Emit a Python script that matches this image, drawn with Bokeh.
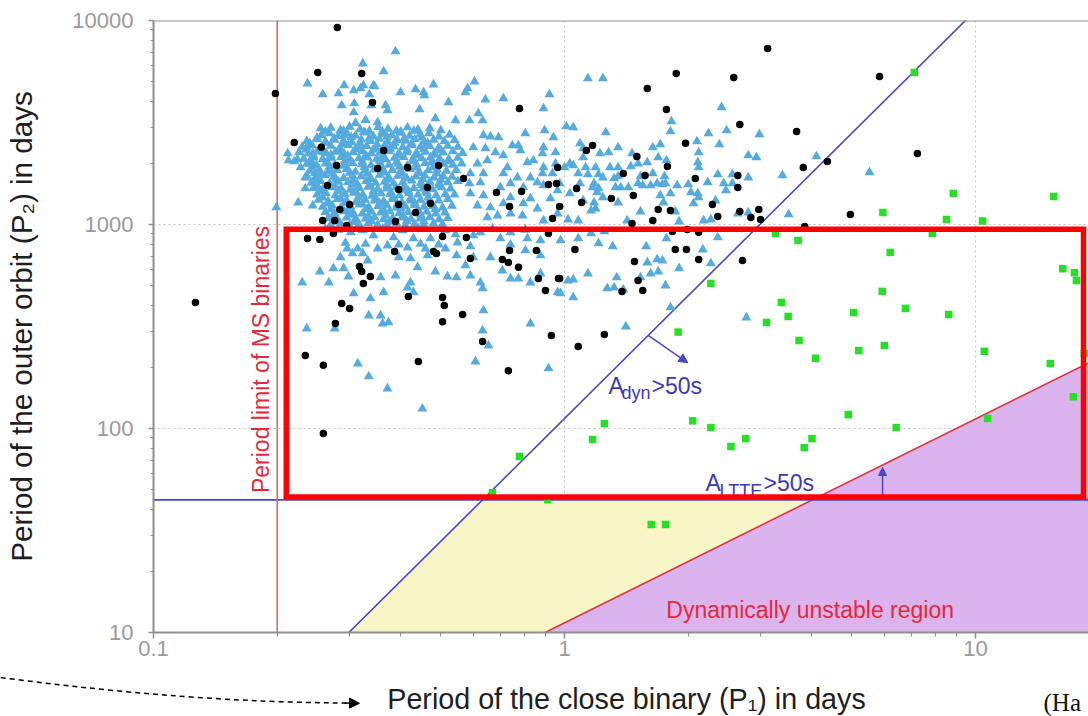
import numpy as np
from bokeh.plotting import figure
from bokeh.layouts import column
from bokeh.models import (FixedTicker, CustomJSTickFormatter, Span, Label, Arrow,
                          NormalHead, BoxAnnotation, Range1d)
from bokeh.embed import file_html
from bokeh.resources import INLINE

# ---------------------------------------------------------------------------
# Catalogue systems: (P1 close-binary period [d], P2 outer-orbit period [d])
# ---------------------------------------------------------------------------
# Kepler triples, crowded core of the distribution
triples_core = [
    (0.27, 2980), (0.285, 2900), (0.30, 3010), (0.318, 2930), (0.335, 2870), (0.352, 3000),
    (0.372, 2940), (0.39, 2880), (0.415, 2990), (0.44, 2920), (0.47, 2960), (0.50, 2890),
    (0.256, 2740), (0.268, 2800), (0.281, 2710), (0.296, 2780), (0.31, 2730), (0.327, 2820),
    (0.343, 2700), (0.361, 2770), (0.38, 2740), (0.398, 2810), (0.42, 2720), (0.445, 2760),
    (0.468, 2800), (0.495, 2700), (0.525, 2750),
    (0.236, 2560), (0.25, 2620), (0.262, 2550), (0.275, 2600), (0.29, 2580), (0.304, 2530),
    (0.32, 2610), (0.337, 2560), (0.354, 2630), (0.372, 2540), (0.392, 2590), (0.41, 2570),
    (0.432, 2620), (0.455, 2550), (0.48, 2600), (0.51, 2560), (0.54, 2590),
    (0.23, 2400), (0.243, 2440), (0.256, 2390), (0.27, 2430), (0.284, 2380), (0.298, 2450),
    (0.314, 2400), (0.33, 2420), (0.347, 2370), (0.365, 2440), (0.384, 2410), (0.404, 2390),
    (0.424, 2450), (0.446, 2400), (0.47, 2420), (0.494, 2380), (0.52, 2430), (0.55, 2400),
    (0.226, 2260), (0.238, 2230), (0.25, 2280), (0.263, 2240), (0.277, 2270), (0.291, 2220),
    (0.306, 2260), (0.322, 2290), (0.339, 2230), (0.356, 2250), (0.375, 2280), (0.394, 2210),
    (0.414, 2260), (0.436, 2240), (0.458, 2270), (0.482, 2230), (0.507, 2250), (0.535, 2280),
    (0.565, 2240),
    (0.232, 2100), (0.245, 2130), (0.258, 2090), (0.271, 2120), (0.286, 2140), (0.30, 2080),
    (0.316, 2110), (0.332, 2130), (0.349, 2100), (0.367, 2090), (0.386, 2120), (0.406, 2140),
    (0.427, 2080), (0.449, 2110), (0.472, 2130), (0.497, 2100), (0.523, 2090), (0.55, 2120),
    (0.236, 1980), (0.249, 1950), (0.262, 1990), (0.276, 1960), (0.29, 1940), (0.305, 2000),
    (0.321, 1970), (0.338, 1950), (0.356, 1990), (0.374, 1960), (0.394, 1980), (0.414, 1940),
    (0.436, 1970), (0.458, 2000), (0.482, 1950), (0.508, 1980), (0.535, 1960), (0.562, 1990),
    (0.24, 1830), (0.253, 1860), (0.266, 1820), (0.28, 1850), (0.295, 1870), (0.31, 1810),
    (0.327, 1840), (0.344, 1860), (0.362, 1820), (0.381, 1850), (0.40, 1830), (0.421, 1870),
    (0.443, 1810), (0.466, 1840), (0.49, 1860), (0.516, 1830), (0.545, 1850),
    (0.236, 1730), (0.248, 1700), (0.261, 1740), (0.275, 1710), (0.29, 1690), (0.305, 1730),
    (0.32, 1720), (0.337, 1700), (0.355, 1750), (0.373, 1710), (0.393, 1730), (0.413, 1690),
    (0.435, 1720), (0.457, 1740), (0.481, 1700), (0.507, 1720), (0.533, 1710),
    (0.242, 1600), (0.255, 1630), (0.268, 1590), (0.282, 1620), (0.297, 1610), (0.313, 1580),
    (0.329, 1630), (0.347, 1600), (0.365, 1620), (0.384, 1590), (0.404, 1610), (0.425, 1640),
    (0.447, 1600), (0.47, 1620), (0.495, 1590), (0.52, 1610), (0.55, 1630),
    (0.245, 1510), (0.258, 1490), (0.272, 1520), (0.286, 1500), (0.301, 1480), (0.317, 1510),
    (0.333, 1530), (0.351, 1490), (0.369, 1500), (0.389, 1520), (0.409, 1480), (0.43, 1510),
    (0.453, 1500), (0.477, 1490), (0.502, 1520), (0.528, 1500),
    (0.25, 1400), (0.263, 1420), (0.277, 1390), (0.292, 1410), (0.307, 1430), (0.323, 1400),
    (0.34, 1380), (0.358, 1420), (0.377, 1410), (0.397, 1390), (0.418, 1420), (0.44, 1400),
    (0.463, 1430), (0.487, 1390), (0.513, 1410), (0.54, 1400),
    (0.252, 1320), (0.266, 1300), (0.28, 1330), (0.295, 1310), (0.311, 1290), (0.327, 1320),
    (0.345, 1310), (0.363, 1300), (0.382, 1330), (0.402, 1290), (0.423, 1310), (0.446, 1320),
    (0.469, 1300), (0.494, 1310), (0.52, 1330),
    (0.258, 1220), (0.272, 1240), (0.286, 1210), (0.301, 1230), (0.317, 1250), (0.334, 1215),
    (0.352, 1230), (0.37, 1240), (0.39, 1210), (0.41, 1225), (0.432, 1245), (0.455, 1220),
    (0.479, 1230), (0.505, 1210), (0.532, 1235),
    (0.262, 1150), (0.276, 1135), (0.291, 1160), (0.306, 1140), (0.322, 1130), (0.339, 1155),
    (0.357, 1145), (0.376, 1160), (0.396, 1135), (0.417, 1150), (0.439, 1140), (0.462, 1155),
    (0.486, 1130), (0.512, 1145),
    (0.266, 1075), (0.28, 1060), (0.295, 1080), (0.311, 1065), (0.328, 1070), (0.345, 1085),
    (0.363, 1060), (0.382, 1075), (0.402, 1080), (0.423, 1065), (0.446, 1070), (0.47, 1085),
    (0.495, 1060), (0.52, 1075),
    (0.27, 1000), (0.285, 1010), (0.30, 990), (0.316, 1005), (0.333, 1015), (0.351, 995),
    (0.37, 1000), (0.39, 1010), (0.41, 990), (0.432, 1005), (0.455, 995), (0.48, 1010),
    (0.505, 1000),
]

# Kepler triples filling the gaps of the densest part
triples_core_fill = [
    (0.262, 2850), (0.29, 2870), (0.325, 2835), (0.36, 2860), (0.40, 2845), (0.43, 2875),
    (0.25, 2665), (0.275, 2640), (0.303, 2680), (0.335, 2655), (0.37, 2690), (0.408, 2650),
    (0.45, 2670),
    (0.24, 2495), (0.263, 2510), (0.288, 2480), (0.318, 2500), (0.35, 2470), (0.386, 2515),
    (0.425, 2490), (0.465, 2505),
    (0.235, 2330), (0.258, 2345), (0.283, 2315), (0.31, 2335), (0.342, 2320), (0.376, 2350),
    (0.415, 2325), (0.455, 2340), (0.50, 2315),
    (0.245, 2180), (0.27, 2195), (0.297, 2170), (0.328, 2185), (0.362, 2165), (0.398, 2190),
    (0.44, 2175), (0.485, 2195),
    (0.24, 2040), (0.265, 2025), (0.292, 2050), (0.322, 2035), (0.355, 2055), (0.39, 2030),
    (0.43, 2045), (0.475, 2025), (0.52, 2040),
    (0.243, 1905), (0.268, 1915), (0.296, 1895), (0.326, 1910), (0.36, 1890), (0.397, 1915),
    (0.437, 1900), (0.48, 1910),
    (0.247, 1780), (0.272, 1770), (0.30, 1790), (0.331, 1775), (0.365, 1795), (0.402, 1770),
    (0.443, 1785), (0.49, 1775),
    (0.252, 1665), (0.278, 1675), (0.306, 1655), (0.338, 1670), (0.372, 1660), (0.41, 1680),
    (0.452, 1665), (0.50, 1655),
    (0.25, 1555), (0.276, 1545), (0.304, 1565), (0.336, 1550), (0.37, 1560), (0.408, 1545),
    (0.45, 1560), (0.495, 1550),
    (0.256, 1450), (0.282, 1460), (0.311, 1445), (0.343, 1455), (0.378, 1440), (0.417, 1460),
    (0.46, 1450),
    (0.258, 1355), (0.285, 1345), (0.315, 1360), (0.347, 1350), (0.383, 1365), (0.422, 1345),
    (0.466, 1355),
    (0.265, 1265), (0.292, 1275), (0.322, 1260), (0.355, 1270), (0.392, 1255), (0.432, 1275),
    (0.476, 1265),
    (0.27, 1185), (0.298, 1175), (0.329, 1190), (0.363, 1180), (0.40, 1195), (0.44, 1180),
    (0.485, 1190),
    (0.273, 1105), (0.302, 1115), (0.333, 1100), (0.367, 1110), (0.405, 1100), (0.447, 1115),
    (0.278, 1035), (0.307, 1030), (0.339, 1040), (0.374, 1030), (0.413, 1040), (0.455, 1035),
]

# Kepler triples, wider surroundings of the core
triples_upper = [
    (0.388, 7050), (0.363, 5626), (0.343, 4803), (0.48, 4855), (0.604, 5023), (0.399, 4440),
    (0.434, 4592), (0.454, 4440), (0.456, 4291), (0.581, 4644), (0.574, 4440), (0.522, 3965),
    (0.642, 4100), (0.71, 4148), (0.919, 4340), (0.889, 3705), (0.367, 3833), (0.371, 3623),
    (0.444, 3665), (0.617, 3504), (0.587, 3236), (0.632, 3236), (0.485, 3310), (0.543, 3236),
    (0.894, 2891), (0.803, 2795), (0.94, 2672), (0.635, 2732), (0.66, 2700), (0.691, 2672),
    (0.60, 2387), (0.642, 2360), (0.679, 2255), (0.747, 2441), (0.772, 2441), (0.781, 2307),
    (0.889, 2387), (0.884, 2230), (0.951, 2255), (0.71, 2180), (0.614, 1990), (0.649, 2060),
    (0.726, 1904), (0.812, 2015), (0.84, 2060), (0.889, 1904), (0.951, 1990), (1.0, 1904),
    (0.59, 1779), (0.635, 1779), (0.71, 1779), (0.768, 1700), (0.826, 1700), (0.884, 1779),
    (0.935, 1779), (0.587, 1590), (0.624, 1607), (0.698, 1520), (0.739, 1590), (0.794, 1520),
    (0.859, 1607), (0.889, 1554), (0.962, 1468), (0.59, 1420), (0.635, 1388), (0.826, 1342),
    (0.739, 1357), (0.924, 1342), (0.614, 1239), (0.66, 1212), (0.71, 1268), (0.794, 1268),
    (0.859, 1198), (0.687, 1107), (0.739, 1132), (0.649, 1083), (0.79, 1107), (0.889, 1046),
    (0.962, 1132),
    (0.323, 6154), (0.237, 4910), (0.291, 4803), (0.282, 4390), (0.258, 4340), (0.307, 4540),
    (0.319, 4643), (0.324, 4803), (0.335, 4340), (0.345, 4749), (0.287, 3833), (0.308, 3920),
    (0.307, 3542), (0.339, 3833), (0.255, 2957), (0.29, 2732), (0.31, 3140), (0.328, 3250),
    (0.351, 3165), (0.212, 2230), (0.213, 2060), (0.224, 2084), (0.236, 2387), (0.244, 2230),
    (0.259, 2255), (0.228, 1904), (0.234, 1700), (0.244, 1990), (0.255, 1779), (0.244, 1607),
    (0.234, 1502), (0.251, 1520), (0.225, 1282), (0.244, 1239), (0.199, 1212), (0.22, 2040),
    (1.14, 5200), (1.24, 5200), (2.41, 3750), (1.82, 3200), (1.26, 2826), (1.81, 2860),
    (2.24, 2795), (2.48, 2890), (2.98, 2763), (1.01, 3025), (1.05, 2990), (1.64, 2387),
    (1.71, 2469), (2.10, 2553), (2.38, 2469), (1.09, 2497), (1.11, 2360), (1.35, 2387),
    (1.22, 2230), (1.28, 2255), (1.46, 2230), (2.12, 2255), (2.80, 2180), (2.93, 2132),
    (4.10, 2156), (1.59, 2015), (1.69, 2132), (1.77, 2060), (2.11, 2015), (2.12, 1904),
    (1.11, 2132), (1.03, 1990), (1.05, 1947), (1.125, 1904), (1.19, 1904), (1.29, 1904),
    (1.35, 1904), (1.45, 1925), (1.51, 1990), (1.08, 1779), (1.14, 1759), (1.21, 1759),
    (1.24, 1700), (1.32, 1681), (1.35, 1720), (1.53, 1720), (1.64, 1779), (1.75, 1720),
    (2.36, 1759), (2.56, 1759), (2.80, 1700), (3.39, 1739), (5.52, 1800), (0.973, 1590),
    (1.09, 1590), (1.18, 1590), (1.17, 1520), (1.21, 1502), (1.33, 1520), (1.37, 1520),
    (1.43, 1520), (1.51, 1590), (1.55, 1554), (1.62, 1554), (1.68, 1590), (1.73, 1572),
    (1.76, 1590), (1.88, 1554), (2.0, 1572), (2.23, 1607), (2.44, 1590), (2.56, 1590),
    (1.03, 1420), (1.20, 1437), (1.24, 1357), (1.71, 1388), (1.81, 1420), (2.03, 1437),
    (2.11, 1420), (2.12, 1357), (2.47, 1468), (1.11, 1311), (1.18, 1282), (1.35, 1282),
    (1.74, 1282), (2.06, 1268), (2.33, 1311), (1.19, 1198), (1.16, 1171), (1.53, 1158),
    (1.86, 1158), (2.64, 1132), (2.80, 1145), (3.51, 1120), (1.02, 1058), (1.08, 1046),
    (1.42, 1046), (1.90, 1033), (2.18, 1046), (2.27, 1058),
]

triples_lower = [
    (0.262, 952), (0.282, 942), (0.302, 915), (0.323, 935), (0.361, 952), (0.404, 935),
    (0.441, 952), (0.513, 935), (0.543, 894), (0.624, 915), (0.668, 952), (0.739, 915),
    (0.803, 942), (0.874, 835), (0.978, 835), (0.293, 812), (0.328, 803), (0.395, 796),
    (0.446, 803), (0.494, 796), (0.59, 781), (0.739, 796), (0.803, 746),
    (0.23, 519), (0.254, 588), (0.267, 519), (0.274, 610), (0.29, 610), (0.296, 762),
    (0.305, 721), (0.285, 690), (0.298, 556), (0.307, 460), (0.323, 721), (0.337, 434),
    (0.334, 358), (0.357, 358), (0.361, 327), (0.373, 331), (0.363, 465), (0.357, 550),
    (0.388, 562), (0.395, 690), (0.422, 682), (0.439, 617), (0.422, 519), (0.415, 491),
    (0.429, 465), (0.459, 762), (0.485, 588), (0.519, 556), (0.546, 550), (0.574, 630),
    (0.59, 562), (0.624, 519), (0.60, 690), (0.632, 486), (0.635, 379), (0.632, 302),
    (0.653, 255), (0.607, 213), (0.706, 595), (0.739, 543), (0.772, 543), (0.826, 519),
    (0.826, 327), (0.874, 575), (0.914, 197), (0.962, 465), (1.02, 531), (0.874, 705),
    (0.812, 854), (0.698, 854), (0.60, 884), (0.549, 816), (0.472, 854), (0.429, 854),
    (0.384, 864), (0.343, 884), (0.314, 762), (0.332, 666), (0.351, 762), (0.371, 789),
    (0.415, 771), (0.464, 705), (0.513, 762), (0.546, 705), (0.66, 690), (0.236, 309),
    (0.276, 309), (0.314, 208), (0.334, 180), (0.371, 157), (0.451, 125),
    (1.08, 854), (1.21, 808), (1.31, 781), (1.58, 781), (1.77, 854), (2.36, 864),
    (2.17, 754), (1.25, 925), (1.16, 904), (1.59, 651), (1.68, 674), (1.73, 666),
    (1.69, 588), (1.62, 575), (1.90, 610), (2.27, 644), (1.05, 537), (1.14, 575),
    (1.34, 550), (1.32, 491), (1.27, 486), (1.39, 480), (1.76, 502), (1.53, 550),
    (1.05, 439), (0.978, 460), (1.81, 392), (1.41, 316), (2.77, 350),
]

# Ground-based / literature triples
literature = [
    (0.28, 9240), (0.251, 5560), (0.321, 5500), (0.198, 4390), (0.22, 2525), (0.256, 2390),
    (0.341, 3965), (0.777, 3705), (3.12, 7290), (1.87, 5500), (2.58, 5260), (1.59, 4640),
    (5.84, 5320), (1.77, 3665), (2.67, 3095), (3.67, 2860), (7.22, 2230), (1.17, 2440),
    (1.13, 2307), (1.97, 2500), (1.50, 2155), (1.78, 1925), (3.81, 1905), (4.36, 2036),
    (1.39, 1780), (1.57, 1740), (2.64, 1740), (2.08, 1680), (1.07, 1500), (2.64, 1520),
    (1.47, 1388), (1.30, 1342), (1.10, 1282), (0.973, 1225), (2.29, 1253), (1.69, 1185),
    (1.81, 1171), (2.67, 1158), (2.97, 1185), (2.36, 1095), (2.84, 1083), (3.0, 1058),
    (1.64, 1046), (4.96, 1120), (1.46, 1011), (3.84, 978), (1.83, 925), (1.99, 946),
    (2.12, 915), (1.06, 754), (1.86, 754), (1.98, 754), (1.48, 659), (2.12, 674),
    (2.71, 666), (1.51, 531), (1.38, 470), (1.55, 475), (0.973, 543), (1.25, 289),
    (1.08, 252), (0.464, 1520), (0.395, 1253), (0.434, 1145), (0.388, 1033), (0.472, 1268),
    (0.683, 1437), (0.786, 1453), (0.735, 1225), (0.962, 1904), (0.914, 1572), (0.956, 1590),
    (0.935, 1070), (0.494, 1947), (0.568, 1681), (0.415, 1904), (0.395, 1485), (0.279, 1947),
    (0.284, 1185), (0.30, 1253), (0.258, 1046), (0.276, 1046), (0.295, 989), (0.237, 854),
    (0.254, 845), (0.274, 904), (0.505, 874), (0.386, 738), (0.48, 738), (0.488, 721),
    (0.317, 623), (0.321, 588), (0.337, 556), (0.324, 514), (0.417, 444), (0.505, 439),
    (0.51, 401), (0.287, 410), (0.30, 388), (0.505, 334), (0.277, 327), (0.1265, 415),
    (0.577, 864), (0.59, 682), (0.735, 746), (0.706, 674), (0.73, 651), (0.773, 617),
    (0.854, 746), (0.914, 904), (0.864, 543), (0.967, 543), (0.899, 475), (0.929, 286),
    (0.632, 267), (0.234, 228), (0.259, 204), (0.441, 213), (0.73, 192), (0.259, 94.6),
    (0.565, 362), (0.265, 1554), (0.351, 1883), (0.363, 2307),
]

# Eclipse-timing detections with dynamical perturbations
eclipse_timing = [
    (7.1, 5560), (8.83, 1420), (15.5, 1372), (5.95, 1145), (8.5, 1058), (10.4, 1040),
    (3.26, 904), (3.7, 835), (7.85, 904), (6.2, 730), (16.3, 607), (17.4, 580),
    (17.6, 531), (2.27, 514), (5.93, 470), (3.37, 415), (6.75, 388), (3.5, 354),
    (5.05, 370), (8.6, 362), (3.1, 331), (1.89, 297), (3.72, 270), (6.0, 255),
    (5.2, 241), (10.5, 239), (4.08, 221), (15.2, 208), (18.4, 233), (17.3, 143),
    (4.9, 117), (6.41, 101), (10.7, 112), (4.0, 89.2), (3.83, 80.6), (1.25, 105.6),
    (1.17, 88.3), (2.05, 109), (2.27, 101), (2.76, 89.2), (2.54, 81.6), (0.777, 73),
    (0.668, 48.5), (0.91, 44.8), (1.625, 33.8), (1.761, 33.8),
]

x_ticks = [0.1, 1, 10]
x_minor = [0.2, 0.3, 0.4, 0.5, 0.6, 0.7, 0.8, 0.9, 2, 3, 4, 5, 6, 7, 8, 9]
y_ticks = [10, 100, 1000, 10000]
y_minor = [20, 30, 40, 50, 60, 70, 80, 90, 200, 300, 400, 500, 600, 700, 800, 900,
           2000, 3000, 4000, 5000, 6000, 7000, 8000, 9000]

# Boundaries of the detectability / stability diagram
MS_LIMIT_P1 = 0.2        # shortest period of main-sequence binaries [d]
LTTE_P2 = 44.7           # A_LTTE = 50 s for the outer orbit
A_DYN_COEF = 112.0       # A_dyn = 50 s  <=>  P2 = coef * P1^2
STAB_COEF = 11.15        # dynamical stability limit  P2 = coef * P1

X_RANGE = (0.1, 18.83)
Y_RANGE = (10, 10000)

AXIS_GREY = "#8e8e8e"
TICK_GREY = "#9a9a9a"
LINE_BLUE = "#4848c4"
TEXT_BLUE = "#3a3ab8"
TEXT_RED = "#e3283c"
FONT = "Liberation Sans"
WIDTH = 1088
CAPTION_H = 40
LIFT = 6      # px that the annotation texts are raised by


def split(points):
    return [a for a, _ in points], [b for _, b in points]


p = figure(frame_width=935, frame_height=612,
           x_axis_type="log", y_axis_type="log",
           x_range=X_RANGE, y_range=Y_RANGE,
           min_border_left=153, min_border_right=0, min_border_top=20, min_border_bottom=44,
           output_backend="svg", toolbar_location=None,
           background_fill_color="white", border_fill_color="white",
           outline_line_color=None)
p.frame_align = False

# ---- axes ----
xa, ya = p.xaxis[0], p.yaxis[0]
xa.ticker = FixedTicker(ticks=x_ticks, minor_ticks=x_minor)
ya.ticker = FixedTicker(ticks=y_ticks, minor_ticks=y_minor)
for ax in (xa, ya):
    ax.formatter = CustomJSTickFormatter(code="return String(tick);")
    ax.axis_line_color = AXIS_GREY
    ax.axis_line_width = 2
    ax.major_tick_line_color = AXIS_GREY
    ax.minor_tick_line_color = AXIS_GREY
    ax.major_tick_line_width = 1.5
    ax.minor_tick_line_width = 1
    ax.major_tick_in = 0
    ax.minor_tick_in = 0
    ax.major_label_text_font = FONT
    ax.major_label_text_font_size = "22px"
    ax.major_label_text_color = TICK_GREY
    ax.axis_label_text_font = FONT
    ax.axis_label_text_font_style = "normal"
    ax.axis_label_text_color = "#1e1e1e"

xa.major_tick_out = 6
xa.minor_tick_out = 4
xa.major_label_standoff = 2

ya.axis_label = "Period of the outer orbit (P\u2082) in days"
ya.axis_label_text_font_size = "29.6px"
ya.major_tick_out = 5
ya.minor_tick_out = 3
ya.major_label_standoff = 15
ya.axis_label_standoff = 31

p.xgrid.ticker = FixedTicker(ticks=[1, 10])
p.ygrid.ticker = FixedTicker(ticks=[100, 1000])
p.grid.grid_line_color = "#c4c4c4"
p.grid.grid_line_dash = "2 3"
p.grid.grid_line_width = 1

p.add_layout(Span(location=Y_RANGE[1], dimension="width",
                  line_color=AXIS_GREY, line_width=2))

# ---- regions ----
lo, hi = 5.0, 40.0
yellow_x = [np.sqrt(lo / A_DYN_COEF), np.sqrt(LTTE_P2 / A_DYN_COEF),
            LTTE_P2 / STAB_COEF, lo / STAB_COEF]
yellow_y = [lo, LTTE_P2, LTTE_P2, lo]
p.patch(yellow_x, yellow_y, fill_color="#f8f5c6", line_color=None)

purple_x = [lo / STAB_COEF, hi, hi]
purple_y = [lo, STAB_COEF * hi, lo]
p.patch(purple_x, purple_y, fill_color="#dbb4ed", line_color=None)

# ---- boundary lines ----
dyn_p1 = np.array([0.2, 12.0])
p.line(dyn_p1, A_DYN_COEF * dyn_p1 ** 2, line_color=LINE_BLUE, line_width=1.6)
stab_p1 = np.array([0.3, hi])
p.line(stab_p1, STAB_COEF * stab_p1, line_color="#d8343e", line_width=1.6)
p.segment(x0=[X_RANGE[0]], y0=[LTTE_P2], x1=[X_RANGE[1]], y1=[LTTE_P2],
          line_color=LINE_BLUE, line_width=1.6)
p.segment(x0=[MS_LIMIT_P1], y0=[Y_RANGE[0]], x1=[MS_LIMIT_P1], y1=[Y_RANGE[1]],
          line_color="#cc6f6f", line_width=1.6)

# ---- systems ----
tx, ty = split(triples_core + triples_core_fill + triples_upper + triples_lower)
p.scatter(tx, ty, marker="triangle", size=10, fill_color="#55aade", line_color=None)
cx, cy = split(literature)
p.scatter(cx, cy, marker="circle", size=7.5, fill_color="black", line_color=None)
sx, sy = split(eclipse_timing)
p.scatter(sx, sy, marker="square", size=7.5, fill_color="#25e025", line_color=None)

# ---- annotations ----
p.add_layout(Label(x=MS_LIMIT_P1, y=218, x_offset=-16, angle=90, angle_units="deg",
                   text="Period limit of MS binaries", text_align="center",
                   text_baseline="alphabetic", text_font=FONT, text_font_size="23px",
                   text_color=TEXT_RED))
p.add_layout(Label(x=3.96, y=11.98, y_offset=LIFT, text="Dynamically unstable region",
                   text_align="center", text_baseline="alphabetic",
                   text_font=FONT, text_font_size="23px", text_color=TEXT_RED))

dyn_at = (1.28, 150.4)
p.add_layout(Label(x=dyn_at[0], y=dyn_at[1], y_offset=LIFT, text="A",
                   text_baseline="alphabetic", text_font=FONT, text_font_size="23px",
                   text_color=TEXT_BLUE))
p.add_layout(Label(x=dyn_at[0], y=dyn_at[1], x_offset=13, y_offset=LIFT - 7, text="dyn",
                   text_baseline="alphabetic", text_font=FONT, text_font_size="18px",
                   text_color=TEXT_BLUE))
p.add_layout(Label(x=dyn_at[0], y=dyn_at[1], x_offset=43, y_offset=LIFT, text=">50s",
                   text_baseline="alphabetic", text_font=FONT, text_font_size="23px",
                   text_color=TEXT_BLUE))

ltte_at = (2.203, 50.8)
p.add_layout(Label(x=ltte_at[0], y=ltte_at[1], y_offset=LIFT, text="A",
                   text_baseline="alphabetic", text_font=FONT, text_font_size="23px",
                   text_color=TEXT_BLUE))
p.add_layout(Label(x=ltte_at[0], y=ltte_at[1], x_offset=14, y_offset=LIFT - 8, text="LTTE",
                   text_baseline="alphabetic", text_font=FONT, text_font_size="18px",
                   text_color=TEXT_BLUE))
p.add_layout(Label(x=ltte_at[0], y=ltte_at[1], x_offset=58, y_offset=LIFT, text=">50s",
                   text_baseline="alphabetic", text_font=FONT, text_font_size="23px",
                   text_color=TEXT_BLUE))

arrow_p1 = 1.598
p.add_layout(Arrow(x_start=arrow_p1, y_start=A_DYN_COEF * arrow_p1 ** 2, x_end=1.995, y_end=210,
                   line_color=LINE_BLUE, line_width=1.5,
                   end=NormalHead(size=9, fill_color=LINE_BLUE, line_color=LINE_BLUE)))
ltte_arrow_p1 = 5.94
p.add_layout(Arrow(x_start=ltte_arrow_p1, y_start=LTTE_P2, x_end=ltte_arrow_p1, y_end=64.4,
                   line_color=LINE_BLUE, line_width=1.5,
                   end=NormalHead(size=8, fill_color=LINE_BLUE, line_color=LINE_BLUE)))

# highlighted part of the diagram
p.add_layout(BoxAnnotation(left=0.2104, right=18.31, bottom=46.2, top=948,
                           fill_alpha=0, line_color="#ff0000", line_alpha=1.0,
                           line_width=5.5, line_join="miter"))

# ---- caption strip under the plot: x-axis title, pointer arrow, reference ----
# strip coordinates are pixels: x from the left edge, y up from the bottom edge
cap = figure(width=WIDTH, height=CAPTION_H, x_range=Range1d(0, WIDTH),
             y_range=Range1d(0, CAPTION_H), min_border=0,
             x_axis_location=None, y_axis_location=None,
             output_backend="svg", toolbar_location=None,
             background_fill_color="white", border_fill_color="white",
             outline_line_color=None)
cap.frame_align = False
cap.grid.visible = False

cap.add_layout(Label(x=626, y=17.5, text="Period of the close binary (P\u2081) in days",
                     text_align="center", text_baseline="alphabetic",
                     text_font=FONT, text_font_size="28.7px", text_color="#1e1e1e"))
cap.add_layout(Label(x=1043, y=14.5, text="(Ha", text_align="left", text_baseline="alphabetic",
                     text_font="Liberation Serif", text_font_size="25px",
                     text_color="#111111"))
cap.quadratic(x0=[0], y0=[39], x1=[348], y1=[13.5], cx=[190], cy=[14],
              line_color="black", line_width=1.5, line_dash="5 4")
cap.add_layout(Arrow(x_start=344, y_start=13.5, x_end=359, y_end=13.2,
                     line_color="black", line_width=1.5,
                     end=NormalHead(size=10, fill_color="black", line_color="black")))

layout = column(p, cap, spacing=0)
open("out.html", "w").write(file_html(layout, INLINE))
